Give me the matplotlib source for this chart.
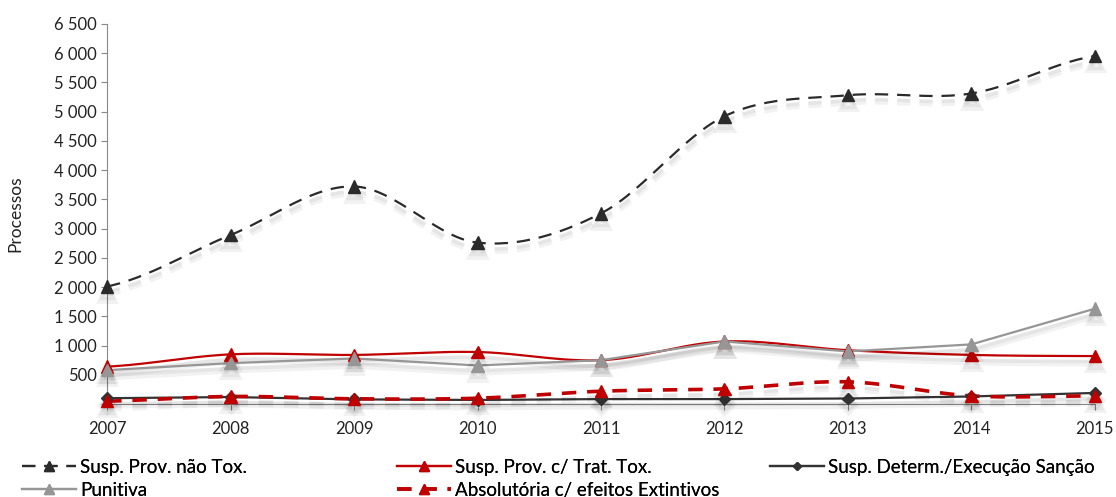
import matplotlib
matplotlib.use("Agg")
import matplotlib.pyplot as plt
import matplotlib.patheffects as pe
import numpy as np
from matplotlib.ticker import FuncFormatter, MultipleLocator

years = [2007, 2008, 2009, 2010, 2011, 2012, 2013, 2014, 2015]

susp_nao_tox = [2010, 2890, 3720, 2760, 3260, 4920, 5280, 5310, 5950]
susp_trat_tox = [640, 850, 840, 890, 750, 1070, 920, 840, 820]
susp_determ = [100, 120, 80, 70, 85, 85, 95, 130, 190]
punitiva = [580, 700, 780, 660, 750, 1070, 900, 1020, 1630]
absolutoria = [50, 130, 90, 100, 220, 260, 380, 140, 140]

labels = [
  "Susp. Prov. não Tox.",
  "Susp. Prov. c/ Trat. Tox.",
  "Susp. Determ./Execução Sanção",
  "Punitiva",
  "Absolutória c/ efeitos Extintivos",
]


def smooth(xs, ys, steps=30):
  # Catmull-Rom style curve through the points (like Excel's smoothed line)
  xs = np.asarray(xs, dtype=float)
  ys = np.asarray(ys, dtype=float)
  px = np.concatenate([[2 * xs[0] - xs[1]], xs, [2 * xs[-1] - xs[-2]]])
  py = np.concatenate([[ys[0]], ys, [ys[-1]]])
  out_x, out_y = [], []
  t = np.linspace(0, 1, steps)
  for i in range(1, len(px) - 2):
    p0, p1, p2, p3 = py[i - 1], py[i], py[i + 1], py[i + 2]
    q0, q1, q2, q3 = px[i - 1], px[i], px[i + 1], px[i + 2]
    c1y = p1 + (p2 - p0) / 6
    c2y = p2 - (p3 - p1) / 6
    c1x = q1 + (q2 - q0) / 6
    c2x = q2 - (q3 - q1) / 6
    bx = (1 - t) ** 3 * q1 + 3 * (1 - t) ** 2 * t * c1x + 3 * (1 - t) * t ** 2 * c2x + t ** 3 * q2
    by = (1 - t) ** 3 * p1 + 3 * (1 - t) ** 2 * t * c1y + 3 * (1 - t) * t ** 2 * c2y + t ** 3 * p2
    out_x.extend(bx)
    out_y.extend(by)
  return np.array(out_x), np.array(out_y)


plt.rcParams["font.family"] = ["Lato", "DejaVu Sans"]

fig = plt.figure(figsize=(11.16, 4.97), dpi=100)
ax = fig.add_axes([0.096, 0.187, 0.885, 0.765])

shadow = [
  pe.SimpleLineShadow(offset=(0, -5), shadow_color="black", alpha=0.05, linewidth=5),
  pe.SimpleLineShadow(offset=(0, -4), shadow_color="black", alpha=0.05, linewidth=2.5),
  pe.Normal(),
]

series = [
  (susp_nao_tox, "#2b2b2b", (0, (6, 4)), "^", 9, True, 1.6),
  (susp_trat_tox, "#c00000", "-", "^", 9, True, 1.6),
  (susp_determ, "#333333", "-", "D", 6, False, 1.6),
  (punitiva, "#969696", "-", "^", 9, False, 1.6),
  (absolutoria, "#c00000", (0, (4, 3)), "^", 9, True, 2.6),
]

handles = []
for ys, color, ls, marker, ms, smoothed, lw in series:
  if smoothed:
    sx, sy = smooth(years, ys)
  else:
    sx, sy = np.array(years, dtype=float), np.array(ys, dtype=float)
  ax.plot(sx, sy, color=color, linestyle=ls, linewidth=lw, clip_on=False,
          path_effects=shadow, zorder=3)
  ax.plot(years, ys, linestyle="none", marker=marker, markersize=ms, color=color,
          clip_on=False, path_effects=shadow, zorder=4)
  h, = ax.plot([], [], color=color, linestyle=ls, linewidth=lw, marker=marker,
               markersize=ms - 2)
  handles.append(h)

ax.set_xlim(2007, 2015)
ax.set_ylim(0, 6500)
ax.set_xticks(years)
ax.yaxis.set_major_locator(MultipleLocator(500))
ax.yaxis.set_major_formatter(
  FuncFormatter(lambda v, _: "" if v == 0 else f"{int(v):,}".replace(",", " "))
)
ax.tick_params(axis="both", labelsize=12, colors="#222222", length=4, color="#888888")
ax.tick_params(axis="x", pad=8)
for side in ("top", "right"):
  ax.spines[side].set_visible(False)
for side in ("left", "bottom"):
  ax.spines[side].set_color("#888888")
ax.set_ylabel("Processos", fontsize=12.5, color="#222222", labelpad=22)

# legend laid out row by row in three fixed columns
columns = [([0, 3], 22), ([1, 4], 397), ([2], 770)]
for idx, x_px in columns:
  leg = fig.legend(
    [handles[i] for i in idx],
    [labels[i] for i in idx],
    loc="upper left",
    bbox_to_anchor=(x_px / 1116, 1 - 459 / 497),
    frameon=False,
    fontsize=13.5,
    handlelength=2.9,
    labelspacing=0.3,
    handletextpad=0.2,
    borderpad=0,
    borderaxespad=0,
  )
  fig.add_artist(leg)

fig.savefig("out.png", dpi=100)
